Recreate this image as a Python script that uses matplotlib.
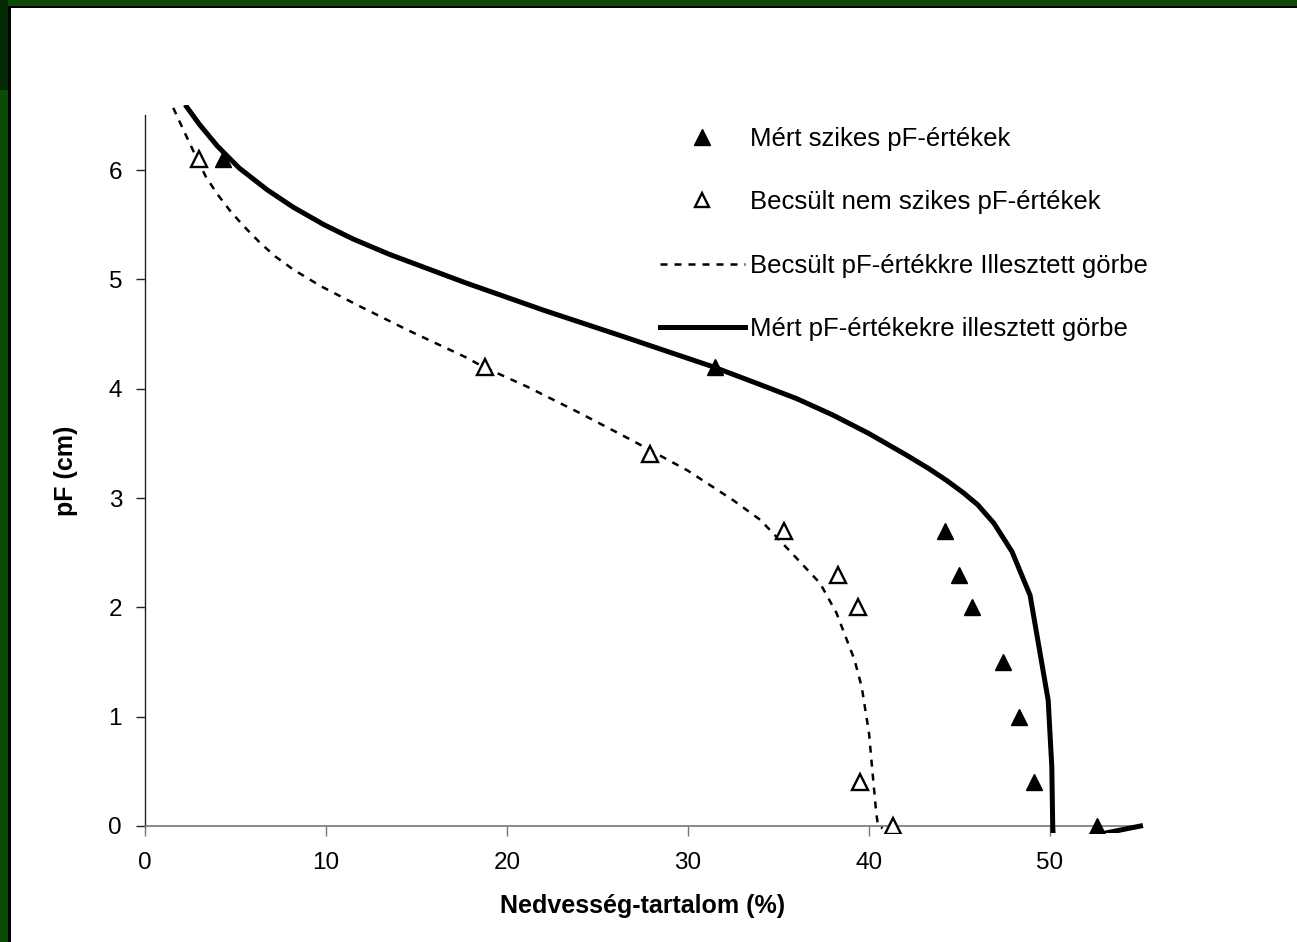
import matplotlib
matplotlib.use("Agg")
import matplotlib.pyplot as plt
from matplotlib.patches import Rectangle
from matplotlib.lines import Line2D

# ---- data ----
meas_x = [4.3, 31.5, 44.2, 45.0, 45.7, 47.4, 48.3, 49.1, 52.6]
meas_y = [6.1, 4.2, 2.7, 2.3, 2.0, 1.5, 1.0, 0.4, 0.0]
est_x = [3.0, 18.8, 27.9, 35.3, 38.3, 39.4, 39.5, 41.3]
est_y = [6.1, 4.2, 3.4, 2.7, 2.3, 2.0, 0.4, 0.0]

solid_x = [2.3, 3.0, 4.0, 5.2, 6.75, 8.2, 9.9, 11.5, 13.5, 17.7, 22.0, 26.2, 31.4,
           33.8, 36.0, 38.0, 40.0, 42.0, 43.3, 44.3, 45.2, 46.0, 46.9, 47.9, 48.9,
           49.9, 50.1, 50.15, 50.2, 55.0]
solid_y = [6.58, 6.42, 6.22, 6.02, 5.82, 5.66, 5.50, 5.37, 5.23, 4.97, 4.72, 4.49, 4.20,
           4.05, 3.91, 3.76, 3.59, 3.40, 3.27, 3.16, 3.05, 2.94, 2.77, 2.51, 2.11,
           1.15, 0.54, 0.0, -0.16, 0.0]

dash_x = [1.56, 2.2, 2.83, 3.36, 4.0, 4.74, 5.5, 6.33, 7.2, 8.2, 9.7, 11.8, 14.6, 17.7,
          18.7, 21.1, 24.0, 27.0, 30.0, 32.5, 34.0, 35.6, 37.3, 38.2, 39.2, 39.6, 40.0,
          40.2, 40.4, 40.5, 40.75]
dash_y = [6.57, 6.34, 6.12, 5.94, 5.78, 5.62, 5.48, 5.34, 5.21, 5.09, 4.94, 4.76, 4.53,
          4.29, 4.20, 4.02, 3.78, 3.52, 3.25, 2.98, 2.80, 2.52, 2.22, 1.95, 1.52, 1.27,
          0.85, 0.48, 0.12, 0.0, -0.02]

x_ticks = [0, 10, 20, 30, 40, 50]
y_ticks = [0, 1, 2, 3, 4, 5, 6]

labels = ["Mért szikes pF-értékek",
          "Becsült nem szikes pF-értékek",
          "Becsült pF-értékkre Illesztett görbe",
          "Mért pF-értékekre illesztett görbe"]

plt.rcParams['font.family'] = ['Liberation Sans', 'DejaVu Sans']

W, H = 1297, 942
fig = plt.figure(figsize=(W / 100, H / 100), dpi=100)
fig.patch.set_facecolor('white')

# frame decoration (green strips with black inner lines)
green = '#0d4a05'
fig.patches.append(Rectangle((0, 1 - 6 / H), 1, 6 / H, transform=fig.transFigure,
                             facecolor=green, edgecolor='none', zorder=0))
fig.patches.append(Rectangle((0, 0), 8 / W, 1, transform=fig.transFigure,
                             facecolor=green, edgecolor='none', zorder=0))
fig.patches.append(Rectangle((0, 1 - 90 / H), 8 / W, 90 / H, transform=fig.transFigure,
                             facecolor='#032a02', edgecolor='none', zorder=0))
fig.patches.append(Rectangle((8 / W, 1 - 8 / H), 1, 2 / H, transform=fig.transFigure,
                             facecolor='black', edgecolor='none', zorder=0))
fig.patches.append(Rectangle((8 / W, 0), 2.5 / W, 1 - 6 / H, transform=fig.transFigure,
                             facecolor='black', edgecolor='none', zorder=0))

left, right = 145 / W, 1140.5 / W
bottom, top = (H - 826) / H, (H - 115.5) / H
ax = fig.add_axes([left, bottom, right - left, top - bottom])
ax.set_xlim(0, 55)
ax.set_ylim(0, 6.5)

clip = Rectangle((0, -0.065), 55.2, 6.665, transform=ax.transData,
                 facecolor='none', edgecolor='none')

l_solid, = ax.plot(solid_x, solid_y, color='black', lw=3.6, zorder=3)
l_dash, = ax.plot(dash_x, dash_y, color='black', lw=1.8, dashes=(2.8, 2.8), zorder=3)
m_meas, = ax.plot(meas_x, meas_y, ls='none', marker='^', ms=12, color='black',
                  mec='black', zorder=4)
m_est, = ax.plot(est_x, est_y, ls='none', marker='^', ms=11, mfc='white',
                 mec='black', mew=1.7, zorder=4)
for art in (l_solid, l_dash, m_meas, m_est):
    art.set_clip_path(clip)

for s in ('top', 'right'):
    ax.spines[s].set_visible(False)
ax.spines['left'].set_color('#222222')
ax.spines['bottom'].set_color('#777777')
ax.spines['left'].set_linewidth(1.0)
ax.spines['bottom'].set_linewidth(1.2)

ax.set_xticks(x_ticks)
ax.set_yticks(y_ticks)
ax.tick_params(axis='x', direction='out', length=7, width=1, color='#777777',
               labelsize=17.5, pad=12)
ax.tick_params(axis='y', direction='out', length=6.5, width=1, color='#222222',
               labelsize=17.5, pad=10)

ax.set_xlabel("Nedvesség-tartalom (%)", fontsize=18, fontweight='bold', labelpad=14)
ax.set_ylabel("pF (cm)", fontsize=18, fontweight='bold', labelpad=22)

h1 = Line2D([], [], ls='none', marker='^', ms=12, color='black')
h2 = Line2D([], [], ls='none', marker='^', ms=10, mfc='white', mec='black', mew=1.7)
h3 = Line2D([], [], color='black', lw=1.8, dashes=(2.8, 2.8))
h4 = Line2D([], [], color='black', lw=3.6)
leg = ax.legend([h1, h2, h3, h4], labels, loc='upper left',
                bbox_to_anchor=((660 - 145) / 995.5, (826 - 127) / 710.5),
                frameon=False, fontsize=18.5, handlelength=3.3, handletextpad=0.2,
                labelspacing=1.53, borderpad=0, borderaxespad=0)

fig.savefig('out.png', dpi=100, facecolor='white')
